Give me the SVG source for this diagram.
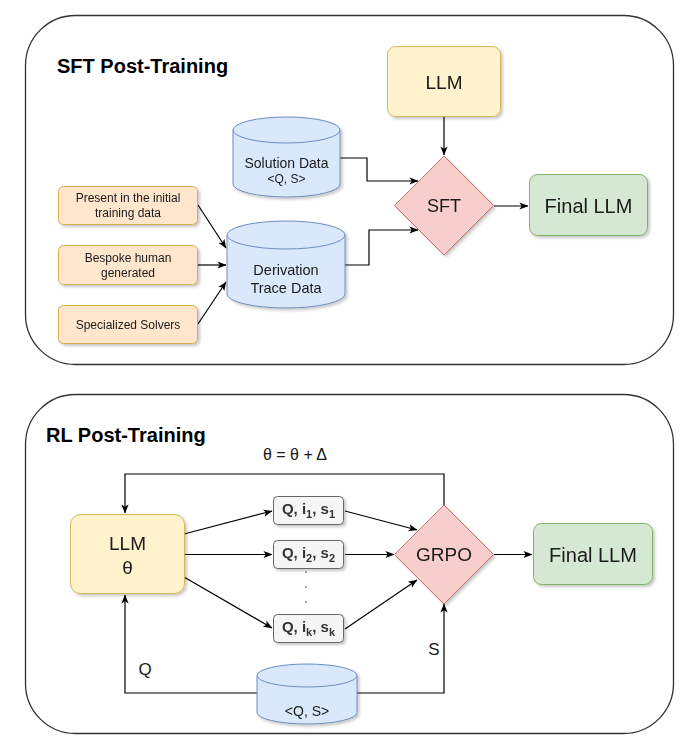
<svg xmlns="http://www.w3.org/2000/svg" width="680" height="739" viewBox="0 0 680 739">
<defs>
<style>
text{font-family:"Liberation Sans",Arial,Helvetica,sans-serif;fill:#1a1a1a}
.container{fill:#ffffff;stroke:#333333;stroke-width:1.3}
.title{font-weight:bold;font-size:20px;fill:#000}
.yellow{fill:#fff2cc;stroke:#d6b656;stroke-width:1}
.orange{fill:#ffe6cc;stroke:#dcab4c;stroke-width:1}
.blue{fill:#dae8fc;stroke:#6c8ebf;stroke-width:1}
.red{fill:#f8cecc;stroke:#c8706c;stroke-width:1}
.green{fill:#d5e8d4;stroke:#82b366;stroke-width:1}
.gray{fill:#f5f5f5;stroke:#666666;stroke-width:1}
.shadow{filter:url(#sh)}
.c{text-anchor:middle}
.edge{fill:none;stroke:#000;stroke-width:1.2;marker-end:url(#arr)}
.qt{font-weight:bold;font-size:15px;fill:#333333}
</style>
<filter id="sh" x="-20%" y="-20%" width="150%" height="150%">
<feDropShadow dx="2" dy="2" stdDeviation="1.5" flood-color="#000" flood-opacity="0.22"/>
</filter>
<marker id="arr" viewBox="0 0 10 10" refX="9.5" refY="5" markerWidth="9" markerHeight="9" markerUnits="userSpaceOnUse" orient="auto">
<path d="M0,1 L10,5 L0,9 L2.5,5 z" fill="#000"/>
</marker>
</defs>

<g id="sft-container">
<rect class="container" x="25.5" y="15.5" width="648" height="349" rx="50" ry="50"/>
<text class="title" x="57" y="73">SFT Post-Training</text>
</g>
<g id="rl-container">
<rect class="container" x="25.5" y="394.5" width="648" height="339" rx="50" ry="50"/>
<text class="title" x="46" y="442">RL Post-Training</text>
</g>

<g id="connectors">
<path class="edge" d="M198,205 L226,248"/>
<path class="edge" d="M198,265 L226,265"/>
<path class="edge" d="M198,324 L226,282"/>
<path class="edge" d="M340,158 H367 V181 H418"/>
<path class="edge" d="M345,265 H369 V230 H418"/>
<path class="edge" d="M444,117 V155"/>
<path class="edge" d="M494,206 H528"/>
<path class="edge" d="M444,505 V474 H125 V513"/>
<path class="edge" d="M184,534 L272,511"/>
<path class="edge" d="M184,554.5 H272"/>
<path class="edge" d="M184,577 L272,628"/>
<path class="edge" d="M345,511 L417,530"/>
<path class="edge" d="M345,554.5 H394"/>
<path class="edge" d="M345,629 L417,580"/>
<path class="edge" d="M494,554.5 H532"/>
<path class="edge" d="M257,693 H125 V595"/>
<path class="edge" d="M357,693 H444 V604"/>
<text x="295" y="460" class="c" font-size="16">θ = θ + Δ</text>
<text x="145" y="675" class="c" font-size="17">Q</text>
<text x="434" y="655" class="c" font-size="17">S</text>
</g>

<g id="sft-llm" class="shadow">
<rect class="yellow" x="387.5" y="46.5" width="113" height="70" rx="8"/>
<text x="444" y="89" class="c" font-size="19">LLM</text>
</g>
<g id="solution-data" class="shadow">
<path class="blue" d="M233,130 a53.5,13 0 0 1 107,0 v54 a53.5,13 0 0 1 -107,0 z"/>
<path class="blue" fill="none" d="M233,130 a53.5,13 0 0 0 107,0"/>
<text x="286.5" y="168" class="c" font-size="14">Solution Data</text>
<text x="286.5" y="183" class="c" font-size="12">&lt;Q, S&gt;</text>
</g>
<g id="sft" class="shadow">
<path class="red" d="M444,156 L493.5,205.5 L444,255 L394.5,205.5 z"/>
<text x="444" y="212" class="c" font-size="18">SFT</text>
</g>
<g id="sft-final" class="shadow">
<rect class="green" x="529.5" y="174.5" width="118" height="61" rx="8"/>
<text x="588.5" y="213" class="c" font-size="20">Final LLM</text>
</g>
<g id="src-initial" class="shadow">
<rect class="orange" x="58.5" y="186.5" width="139" height="38" rx="5"/>
<text x="128" y="202" class="c" font-size="12">Present in the initial</text>
<text x="128" y="217" class="c" font-size="12">training data</text>
</g>
<g id="src-bespoke" class="shadow">
<rect class="orange" x="58.5" y="245.5" width="139" height="39" rx="5"/>
<text x="128" y="262" class="c" font-size="12">Bespoke human</text>
<text x="128" y="277" class="c" font-size="12">generated</text>
</g>
<g id="src-solvers" class="shadow">
<rect class="orange" x="58.5" y="305.5" width="139" height="38" rx="5"/>
<text x="128" y="329" class="c" font-size="12">Specialized Solvers</text>
</g>
<g id="derivation-data" class="shadow">
<path class="blue" d="M227,235 a59,14 0 0 1 118,0 v59 a59,14 0 0 1 -118,0 z"/>
<path class="blue" fill="none" d="M227,235 a59,14 0 0 0 118,0"/>
<text x="286" y="275" class="c" font-size="14.5">Derivation</text>
<text x="286" y="293" class="c" font-size="14.5">Trace Data</text>
</g>

<g id="rl-llm" class="shadow">
<rect class="yellow" x="70.5" y="514.5" width="114" height="79" rx="10"/>
<text x="127.5" y="550" class="c" font-size="19">LLM</text>
<text x="127.5" y="574" class="c" font-size="19">θ</text>
</g>
<g id="sample-1" class="shadow">
<rect class="gray" x="273.5" y="496.5" width="70" height="28" rx="4"/>
<text x="308.5" y="514" class="c qt">Q, i<tspan font-size="11" dy="4">1</tspan><tspan dy="-4">, s</tspan><tspan font-size="11" dy="4">1</tspan></text>
</g>
<g id="sample-2" class="shadow">
<rect class="gray" x="273.5" y="540.5" width="70" height="28" rx="4"/>
<text x="308.5" y="558" class="c qt">Q, i<tspan font-size="11" dy="4">2</tspan><tspan dy="-4">, s</tspan><tspan font-size="11" dy="4">2</tspan></text>
</g>
<g id="sample-dots">
<circle cx="306" cy="572" r="0.8" fill="#333"/>
<circle cx="306" cy="587" r="0.8" fill="#333"/>
<circle cx="306" cy="602" r="0.8" fill="#333"/>
</g>
<g id="sample-k" class="shadow">
<rect class="gray" x="273.5" y="614.5" width="70" height="28" rx="4"/>
<text x="308.5" y="632" class="c qt">Q, i<tspan font-size="11" dy="4">k</tspan><tspan dy="-4">, s</tspan><tspan font-size="11" dy="4">k</tspan></text>
</g>
<g id="grpo" class="shadow">
<path class="red" d="M444,505 L493.5,554.5 L444,604 L394.5,554.5 z"/>
<text x="444" y="561" class="c" font-size="19">GRPO</text>
</g>
<g id="rl-final" class="shadow">
<rect class="green" x="533.5" y="523.5" width="119" height="61" rx="8"/>
<text x="593" y="562" class="c" font-size="20">Final LLM</text>
</g>
<g id="qs-data" class="shadow">
<path class="blue" d="M257,675.5 a50,11.5 0 0 1 100,0 v37 a50,11.5 0 0 1 -100,0 z"/>
<path class="blue" fill="none" d="M257,675.5 a50,11.5 0 0 0 100,0"/>
<text x="307" y="716" class="c" font-size="14">&lt;Q, S&gt;</text>
</g>
</svg>
